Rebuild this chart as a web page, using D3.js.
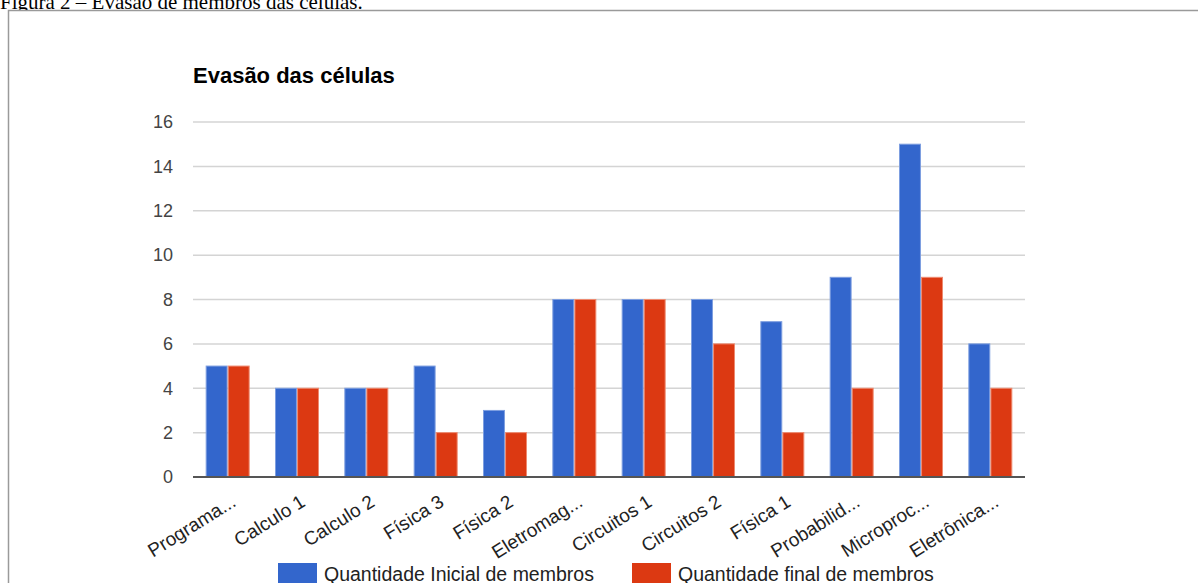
<!DOCTYPE html>
<html>
<head>
<meta charset="utf-8">
<script src="https://cdn.jsdelivr.net/npm/d3@7"></script>
<style>
  body { margin: 0; background: #fff; }
  svg { display: block; }
</style>
</head>
<body>
<div id="chart-container"></div>
<script>
const categories = ['Programa...', 'Calculo 1', 'Calculo 2', 'Física 3', 'Física 2', 'Eletromag...',
  'Circuitos 1', 'Circuitos 2', 'Física 1', 'Probabilid...', 'Microproc...', 'Eletrônica...']
const inicial = [5, 4, 4, 5, 3, 8, 8, 8, 7, 9, 15, 6]
const final = [5, 4, 4, 2, 2, 8, 8, 6, 2, 4, 9, 4]
const seriesNames = ['Quantidade Inicial de membros', 'Quantidade final de membros']
const yTicks = [0, 2, 4, 6, 8, 10, 12, 14, 16]
const colors = ['#3366cc', '#dc3912']

const W = 1198
const H = 583
const margin = { top: 122, right: 173, bottom: 106, left: 193 }
const width = W - margin.left - margin.right
const height = H - margin.top - margin.bottom
const sans = 'Arial, Liberation Sans, sans-serif'

const svg = d3.select('#chart-container').append('svg')
  .attr('width', W)
  .attr('height', H)

// caption (cut off at the top) and frame
svg.append('text')
  .attr('x', 0)
  .attr('y', 9)
  .attr('font-family', 'Liberation Serif, Times New Roman, serif')
  .attr('font-size', 21)
  .attr('fill', '#000')
  .text('Figura 2 – Evasão de membros das células.')

svg.append('rect')
  .attr('x', 8.5)
  .attr('y', 10.5)
  .attr('width', 1200)
  .attr('height', 600)
  .attr('fill', '#fff')
  .attr('stroke', '#9a9a9a')
  .attr('stroke-width', 1.5)

const g = svg.append('g')
  .attr('transform', 'translate(' + margin.left + ',' + margin.top + ')')

const x = d3.scaleBand()
  .domain(categories)
  .range([0, width])
  .paddingInner(0.38)
  .paddingOuter(0.19)

const xs = d3.scaleBand()
  .domain([0, 1])
  .range([0, x.bandwidth()])
  .paddingInner(0.05)

const y = d3.scaleLinear()
  .domain([0, 16])
  .range([height, 0])

// title
svg.append('text')
  .attr('x', margin.left)
  .attr('y', 83)
  .attr('font-family', sans)
  .attr('font-size', 22)
  .attr('font-weight', 'bold')
  .attr('fill', '#000')
  .text('Evasão das células')

// gridlines
g.append('g')
  .selectAll('line')
  .data(yTicks.filter(d => d > 0))
  .join('line')
  .attr('x1', 0)
  .attr('x2', width)
  .attr('y1', d => y(d))
  .attr('y2', d => y(d))
  .attr('stroke', '#d4d4d4')
  .attr('stroke-width', 1.5)

// y axis labels
const yAxis = d3.axisLeft(y).tickValues(yTicks).tickSize(0).tickPadding(20)
g.append('g')
  .call(yAxis)
  .call(s => s.select('.domain').remove())
  .selectAll('text')
  .attr('font-family', sans)
  .attr('font-size', 18)
  .attr('fill', '#444')

// bars
const data = categories.map((c, i) => ({ c, vals: [inicial[i], final[i]] }))
const groups = g.append('g')
  .selectAll('g')
  .data(data)
  .join('g')
  .attr('transform', d => 'translate(' + x(d.c) + ',0)')

groups.selectAll('rect')
  .data(d => d.vals.map((v, k) => ({ v, k })))
  .join('rect')
  .attr('x', d => xs(d.k))
  .attr('width', xs.bandwidth())
  .attr('y', d => y(d.v))
  .attr('height', d => y(0) - y(d.v))
  .attr('fill', d => colors[d.k])
  .attr('stroke', d => d.k === 0 ? '#7d9ee0' : '#ee8a70')
  .attr('stroke-width', 1)

// baseline
g.append('line')
  .attr('x1', 0)
  .attr('x2', width)
  .attr('y1', y(0))
  .attr('y2', y(0))
  .attr('stroke', '#555')
  .attr('stroke-width', 2)

// x labels, rotated
g.append('g')
  .selectAll('text')
  .data(categories)
  .join('text')
  .attr('transform', d => 'translate(' + (x(d) + x.bandwidth() / 2 + 2) + ',' + (height + 16) + ') rotate(-32)')
  .attr('text-anchor', 'end')
  .attr('dy', '0.75em')
  .attr('font-family', sans)
  .attr('font-size', 19)
  .attr('fill', '#222')
  .text(d => d)

// legend
const legendX = [278, 632]
const legend = svg.append('g')
  .selectAll('g')
  .data(seriesNames)
  .join('g')
  .attr('transform', (d, i) => 'translate(' + legendX[i] + ',563)')

legend.append('rect')
  .attr('width', 39)
  .attr('height', 22)
  .attr('fill', (d, i) => colors[i])

legend.append('text')
  .attr('x', 46)
  .attr('y', 18)
  .attr('font-family', sans)
  .attr('font-size', 19.5)
  .attr('fill', '#222')
  .text(d => d)
</script>
</body>
</html>
